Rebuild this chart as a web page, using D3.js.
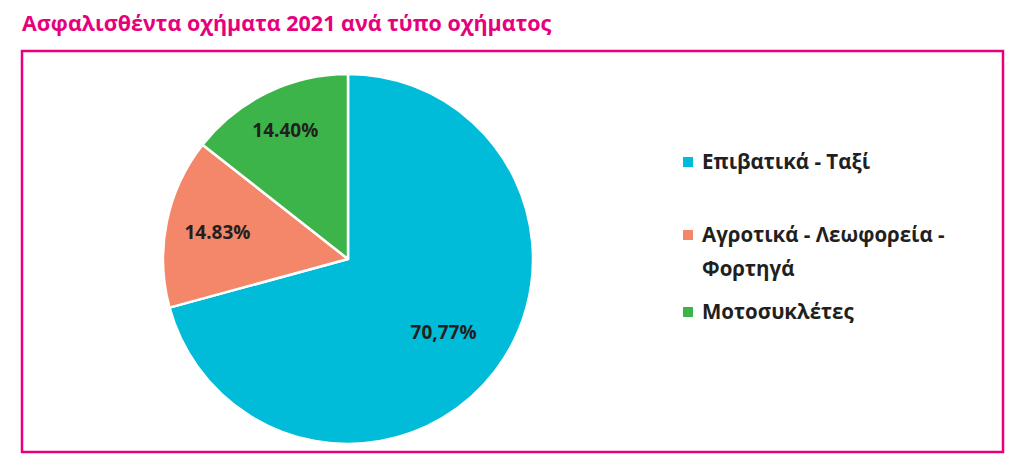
<!DOCTYPE html>
<html>
<head>
<meta charset="utf-8">
<script src="https://cdn.jsdelivr.net/npm/d3@7"></script>
<style>
  body { margin: 0; background: #fff; }
  text { font-family: "Open Sans", "Noto Sans", sans-serif; }
</style>
</head>
<body>
<svg id="chart"></svg>
<script>
// Data
var categories = ["Επιβατικά - Ταξί", "Αγροτικά - Λεωφορεία - Φορτηγά", "Μοτοσυκλέτες"];
var shares = [70.77, 14.83, 14.40];
var shareLabels = ["70,77%", "14.83%", "14.40%"];
var legendLines = [["Επιβατικά - Ταξί"], ["Αγροτικά - Λεωφορεία -", "Φορτηγά"], ["Μοτοσυκλέτες"]];
var title = "Ασφαλισθέντα οχήματα 2021 ανά τύπο οχήματος";

// Total dimensions
var w = 1024,
    h = 470;

var pink = "#e6007e";
var color = d3.scaleOrdinal()
    .domain(categories)
    .range(["#00bcd8", "#f4866a", "#3cb44a"]);

var svg = d3.select("#chart")
    .attr("width", w)
    .attr("height", h);

// Title
svg.append("text")
    .attr("x", 22)
    .attr("y", 31)
    .attr("fill", pink)
    .attr("font-size", "21.5px")
    .attr("font-weight", "bold")
    .text(title);

// Frame
svg.append("rect")
    .attr("x", 22)
    .attr("y", 51)
    .attr("width", 981)
    .attr("height", 401)
    .attr("fill", "none")
    .attr("stroke", pink)
    .attr("stroke-width", 2.5);

// Pie
var cx = 348, cy = 259, radius = 185;
var g = svg.append("g")
    .attr("transform", "translate(" + cx + "," + cy + ")");

var pie = d3.pie()
    .sort(null)
    .value(function(d) { return d; });

var arc = d3.arc()
    .innerRadius(0)
    .outerRadius(radius);

var arcs = pie(shares);

g.selectAll("path")
    .data(arcs)
    .enter().append("path")
    .attr("d", arc)
    .attr("fill", function(d, i) { return color(categories[i]); })
    .attr("stroke", "#fff")
    .attr("stroke-width", 2.5)
    .attr("stroke-linejoin", "round");

// labels sit at slightly different depths in the original
var labelDepth = [0.65, 0.72, 0.775];
g.selectAll(".lbl")
    .data(arcs)
    .enter().append("text")
    .attr("class", "lbl")
    .attr("transform", function(d, i) {
        var r = radius * labelDepth[i];
        var a = (d.startAngle + d.endAngle) / 2;
        return "translate(" + (Math.sin(a) * r) + "," + (-Math.cos(a) * r) + ")";
    })
    .attr("text-anchor", "middle")
    .attr("dy", "0.36em")
    .attr("font-size", "19px")
    .attr("font-weight", "bold")
    .attr("fill", "#231f20")
    .text(function(d, i) { return shareLabels[i]; });

// Legend
var legendTop = [157, 230, 307];
var legend = svg.append("g").attr("class", "legend");
var item = legend.selectAll("g")
    .data(categories)
    .enter().append("g")
    .attr("transform", function(d, i) { return "translate(683," + legendTop[i] + ")"; });

item.append("rect")
    .attr("width", 10)
    .attr("height", 10)
    .attr("fill", function(d) { return color(d); });

item.append("text")
    .attr("font-size", "20.5px")
    .attr("font-weight", "bold")
    .attr("fill", "#231f20")
    .selectAll("tspan")
    .data(function(d, i) { return legendLines[i]; })
    .enter().append("tspan")
    .attr("x", 19)
    .attr("y", function(d, j) { return 12 + j * 34; })
    .text(function(d) { return d; });
</script>
</body>
</html>
